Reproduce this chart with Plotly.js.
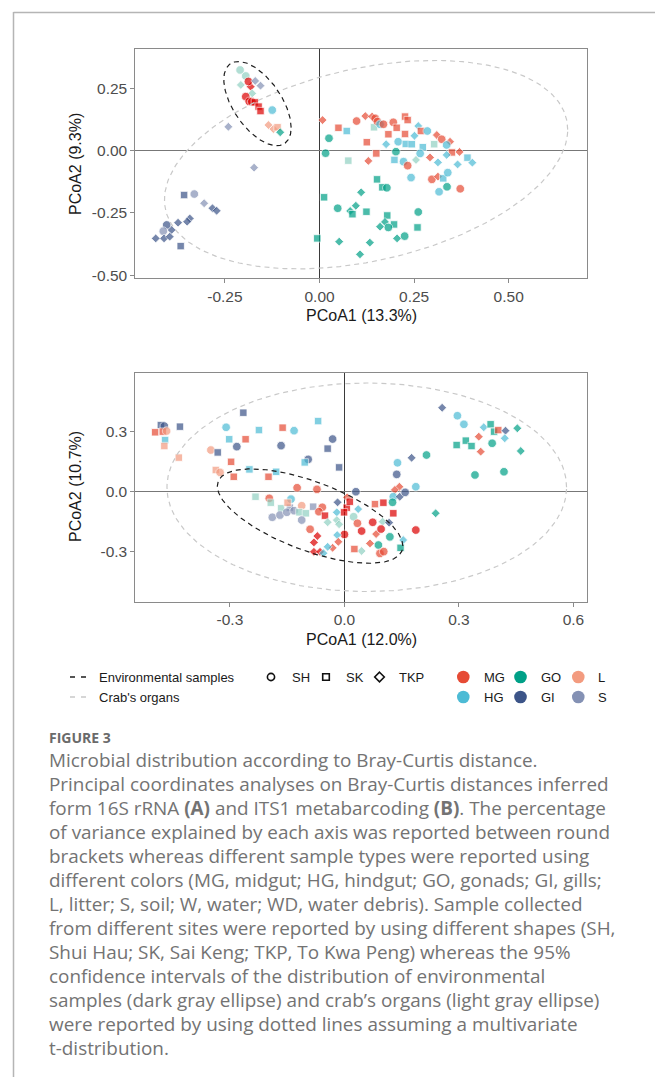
<!DOCTYPE html>
<html><head><meta charset="utf-8">
<script src="https://cdn.plot.ly/plotly-3.0.1.min.js"></script>
<style>html,body{margin:0;padding:0;background:#fff;} #chart{width:655px;height:1077px;}</style>
</head><body><div id="chart"></div>
<script>
// ---------------- DATA ----------------
// Panel A (16S rRNA)
const pcoaA_x = [-0.210,-0.195,-0.208,-0.182,-0.188,-0.170,-0.156,-0.178,-0.195,-0.186,-0.179,-0.171,-0.161,-0.156,-0.125,-0.135,-0.122,-0.111,-0.104,-0.241,-0.173,-0.358,-0.331,-0.305,-0.283,-0.272,-0.343,-0.350,-0.374,-0.391,-0.404,-0.413,-0.411,-0.433,-0.396,-0.367,
 0.008,0.025,0.016,0.050,0.072,0.098,0.121,0.139,0.147,0.144,0.153,0.160,0.169,0.195,0.226,0.233,0.204,0.182,0.261,0.268,0.226,0.251,0.285,0.310,0.345,0.323,0.208,0.228,0.244,0.273,0.303,0.336,0.176,0.125,0.202,0.150,0.266,0.350,0.370,0.076,0.129,0.198,0.222,0.233,0.255,0.292,0.313,0.336,0.365,0.391,0.404,0.242,0.297,0.313,0.327,0.339,0.316,0.337,0.372,0.152,0.166,0.178,0.012,0.110,0.048,0.096,0.081,0.087,0.124,0.261,0.179,0.197,0.173,0.160,0.182,0.259,-0.006,0.052,0.133,0.205,0.225,0.107];
const pcoaA_y = [0.324,0.300,0.264,0.257,0.278,0.280,0.261,0.230,0.217,0.198,0.197,0.194,0.177,0.159,0.163,0.103,0.087,0.094,0.074,0.096,-0.068,-0.178,-0.174,-0.211,-0.231,-0.241,-0.272,-0.285,-0.289,-0.318,-0.298,-0.323,-0.352,-0.352,-0.345,-0.383,
 0.123,0.050,-0.010,0.092,0.079,0.119,0.139,0.137,0.130,0.094,0.117,0.106,0.106,0.114,0.137,0.123,0.092,0.066,0.099,0.079,0.067,0.060,0.079,0.063,0.036,0.046,0.036,0.027,0.026,0.014,0.026,0.023,0.026,0.034,-0.004,-0.011,-0.011,-0.007,-0.005,-0.040,-0.041,-0.037,-0.044,-0.060,-0.037,-0.027,-0.047,-0.017,-0.055,-0.028,-0.048,-0.108,-0.115,-0.104,-0.111,-0.088,-0.165,-0.145,-0.153,-0.115,-0.147,-0.149,-0.187,-0.167,-0.231,-0.221,-0.242,-0.255,-0.245,-0.246,-0.260,-0.296,-0.286,-0.305,-0.308,-0.308,-0.352,-0.365,-0.369,-0.352,-0.343,-0.416];
const pcoaA_type = ['W','W','W','WD','WD','S','S','W','WD','WD','WD','WD','WD','WD','HG','L','L','L','GO','S','S','GI','S','S','GI','GI','GI','GI','GI','GI','GI','S','GI','GI','GI','GI',
 'MG','GO','GO','MG','HG','MG','MG','MG','MG','W','MG','HG','MG','MG','MG','MG','MG','MG','HG','MG','MG','HG','HG','MG','MG','MG','HG','HG','HG','HG','W','HG','HG','MG','GO','MG','HG','MG','MG','W','MG','HG','HG','MG','W','MG','HG','HG','HG','HG','HG','HG','MG','MG','HG','HG','HG','GO','MG','GO','GO','GO','GO','GO','GO','GO','GO','GO','GO','GO','GO','GO','GO','GO','GO','GO','GO','GO','GO','GO','GO','GO'];
const pcoaA_site = ['SH','SH','TKP','TKP','SH','TKP','TKP','TKP','SH','SH','SH','SK','SK','SK','SH','TKP','TKP','SK','TKP','TKP','TKP','SK','SH','TKP','TKP','TKP','TKP','TKP','TKP','TKP','SH','SH','TKP','TKP','TKP','SK',
 'TKP','SH','SH','SK','SK','SH','TKP','TKP','SH','SK','SH','SH','SH','SH','SK','SK','SK','SK','TKP','SK','SK','TKP','SH','TKP','TKP','SH','SH','SK','SK','SK','SK','SH','TKP','SK','SH','SK','SH','SK','TKP','SK','TKP','SK','SH','SH','TKP','TKP','TKP','TKP','TKP','SK','TKP','SH','SH','TKP','SK','SH','SH','SH','SH','SK','SK','SH','SK','TKP','SH','TKP','TKP','SK','SK','SH','SK','SK','TKP','TKP','SH','SK','SK','TKP','TKP','TKP','SH','TKP'];

// Panel B (ITS1)
const pcoaB_x = [-0.481,-0.472,-0.496,-0.476,-0.466,-0.431,-0.470,-0.472,-0.434,-0.265,-0.310,-0.302,-0.282,-0.259,-0.224,-0.350,-0.332,-0.297,-0.337,-0.326,-0.290,-0.249,-0.233,-0.069,-0.162,-0.132,-0.166,-0.031,-0.044,-0.095,-0.104,-0.014,-0.179,-0.199,-0.124,-0.072,0.030,-0.197,-0.193,-0.140,-0.166,-0.143,-0.149,-0.112,-0.189,-0.169,-0.151,-0.132,-0.118,-0.101,-0.112,-0.082,-0.058,-0.067,-0.051,-0.044,-0.020,-0.018,0.007,0.006,0.014,-0.001,0.024,0.036,-0.020,-0.014,0.034,-0.090,-0.071,0.000,-0.019,-0.080,-0.016,-0.031,-0.044,-0.080,-0.064,0.045,0.074,0.100,0.083,0.096,0.117,0.080,0.102,0.128,0.119,0.067,0.089,0.045,0.026,0.093,0.187,0.154,0.147,0.137,0.144,0.132,0.128,0.126,0.145,0.159,0.187,0.256,0.296,0.313,0.365,0.383,0.392,0.403,0.422,0.420,0.453,0.462,0.352,0.357,0.294,0.318,0.333,0.387,0.342,0.418,0.215,0.176,0.139,0.239,0.103,-0.055];
const pcoaB_y = [0.334,0.329,0.298,0.301,0.304,0.326,0.259,0.229,0.171,0.396,0.323,0.263,0.226,0.263,0.309,0.209,0.197,0.150,0.109,0.097,0.075,0.112,-0.025,0.354,0.321,0.306,0.231,0.264,0.216,0.162,0.147,0.122,0.100,0.075,0.020,0.012,0.000,-0.033,-0.055,-0.037,-0.083,-0.080,-0.055,-0.070,-0.128,-0.117,-0.103,-0.095,-0.103,-0.108,-0.142,-0.075,-0.078,-0.100,-0.120,-0.153,-0.103,-0.053,-0.028,-0.080,-0.050,-0.103,-0.125,-0.087,-0.142,-0.163,-0.158,-0.188,-0.222,-0.214,-0.217,-0.254,-0.251,-0.281,-0.276,-0.301,-0.301,-0.197,-0.153,-0.150,-0.212,-0.187,-0.155,-0.062,-0.055,-0.108,-0.226,-0.259,-0.267,-0.297,-0.287,-0.309,-0.192,-0.242,-0.281,0.087,0.025,0.009,-0.025,-0.053,-0.025,-0.003,0.025,0.421,0.381,0.338,0.323,0.338,0.301,0.309,0.306,0.268,0.318,0.204,0.276,0.201,0.234,0.256,0.229,0.243,0.084,0.100,0.184,0.170,0.145,-0.108,-0.300,-0.308];
const pcoaB_type = ['GI','GI','MG','MG','L','GI','HG','L','L','GI','HG','HG','GI','MG','HG','L','GI','MG','L','L','MG','HG','W','HG','MG','HG','GI','GI','GI','GI','HG','GI','HG','MG','MG','MG','GI','MG','W','HG','W','S','L','L','S','S','S','S','W','W','S','S','MG','MG','WD','W','HG','GI','MG','WD','WD','WD','W','HG','W','W','MG','MG','WD','WD','HG','WD','MG','MG','HG','WD','WD','WD','WD','W','MG','WD','GI','MG','WD','WD','GO','MG','GO','W','MG','MG','WD','HG','GO','GI','MG','MG','HG','GO','GI','GI','HG','GI','HG','HG','HG','GO','GO','MG','GI','HG','GO','GO','MG','MG','GO','GO','GO','GO','GO','GO','GO','GI','HG','GO','MG','HG'];
const pcoaB_site = ['SK','SH','SK','SK','SH','SK','SK','SK','SK','SK','SH','SK','SH','SK','SK','SH','SK','SK','SK','SH','SK','SK','SK','SK','SK','SH','SH','SH','SK','SH','SK','SK','SK','SK','SH','SH','SH','SH','SK','SH','SK','SK','SK','SH','SH','SH','SH','SH','SK','SK','SH','SK','SH','SH','SK','TKP','TKP','TKP','TKP','SK','SK','SK','SH','TKP','TKP','TKP','SH','SH','TKP','SH','TKP','TKP','TKP','TKP','TKP','TKP','TKP','SH','SH','TKP','TKP','SH','TKP','SK','SK','SK','SH','TKP','SH','TKP','SK','SH','SH','TKP','SK','SH','TKP','TKP','SH','SH','TKP','SH','SH','TKP','SH','SH','TKP','SK','SK','SK','TKP','TKP','TKP','TKP','TKP','TKP','SK','SK','SK','SH','SH','SH','SH','TKP','SH','TKP','SH','TKP'];

// Ellipse parameters [cx, cy, a, c, d]: x = cx + a cos t ; y = cy + c cos t + d sin t
const ellA_env = [-0.164, 0.189, 0.089, -0.0966, 0.1387];
const ellA_crab = [0.123, -0.056, 0.533, 0.1407, 0.394];
const ellB_env = [-0.090, -0.122, 0.243, -0.150, 0.1828];
const ellB_crab = [0.0585, 0.0225, 0.5235, 0.0, 0.5225];

// Axis ticks
const A_xticks = [-0.25, 0, 0.25, 0.5], A_xtext = ['-0.25','0.00','0.25','0.50'];
const A_yticks = [-0.5, -0.25, 0, 0.25], A_ytext = ['-0.50','-0.25','0.00','0.25'];
const B_xticks = [-0.3, 0, 0.3, 0.6], B_xtext = ['-0.3','0.0','0.3','0.6'];
const B_yticks = [-0.3, 0, 0.3], B_ytext = ['-0.3','0.0','0.3'];

const legendTypes = [['MG','GO','L'],['HG','GI','S']];
const legendSites = ['SH','SK','TKP'];
const captionLines = [
 'Microbial distribution according to Bray-Curtis distance.',
 'Principal coordinates analyses on Bray-Curtis distances inferred',
 'form 16S rRNA <b>(A)</b> and ITS1 metabarcoding <b>(B)</b>. The percentage',
 'of variance explained by each axis was reported between round',
 'brackets whereas different sample types were reported using',
 'different colors (MG, midgut; HG, hindgut; GO, gonads; GI, gills;',
 'L, litter; S, soil; W, water; WD, water debris). Sample collected',
 'from different sites were reported by using different shapes (SH,',
 'Shui Hau; SK, Sai Keng; TKP, To Kwa Peng) whereas the 95%',
 'confidence intervals of the distribution of environmental',
 'samples (dark gray ellipse) and crab\u2019s organs (light gray ellipse)',
 'were reported by using dotted lines assuming a multivariate',
 't-distribution.'
];

// ---------------- STYLE ----------------
const typeColors = {MG:'#E64B35', HG:'#4DBBD5', GO:'#00A087', GI:'#3C5488', L:'#F39B7F', S:'#8491B4', W:'#91D1C2', WD:'#DC0000'};
const siteSymbol = {SH:'circle', SK:'square', TKP:'diamond'};
const siteSize = {SH:8.6, SK:7.4, TKP:6.8};
const W = 655, H = 1077;
const px = v => v / W, py = v => 1 - v / H;
const FONT = 'Liberation Sans, Arial, Helvetica, sans-serif';

function pointsTrace(xs, ys, types, sites, xa, ya) {
  return {
    type: 'scatter', mode: 'markers', x: xs, y: ys, xaxis: xa, yaxis: ya,
    marker: {
      color: types.map(t => typeColors[t]),
      symbol: sites.map(s => siteSymbol[s]),
      size: sites.map(s => siteSize[s]),
      line: {color: '#ffffff', width: 0.8}
    },
    hoverinfo: 'skip', showlegend: false
  };
}
function ellipseTrace(p, color, xa, ya) {
  const xs = [], ys = [];
  for (let i = 0; i <= 240; i++) {
    const t = 2 * Math.PI * i / 240;
    xs.push(p[0] + p[2] * Math.cos(t));
    ys.push(p[1] + p[3] * Math.cos(t) + p[4] * Math.sin(t));
  }
  return {type: 'scatter', mode: 'lines', x: xs, y: ys, xaxis: xa, yaxis: ya,
    line: {color: color, width: 1.2, dash: '5px,4px'}, hoverinfo: 'skip', showlegend: false};
}

const data = [
  pointsTrace(pcoaA_x, pcoaA_y, pcoaA_type, pcoaA_site, 'x', 'y'),
  ellipseTrace(ellA_crab, '#c9c9c9', 'x', 'y'),
  ellipseTrace(ellA_env, '#1e1e1e', 'x', 'y'),
  pointsTrace(pcoaB_x, pcoaB_y, pcoaB_type, pcoaB_site, 'x2', 'y2'),
  ellipseTrace(ellB_crab, '#c9c9c9', 'x2', 'y2'),
  ellipseTrace(ellB_env, '#1e1e1e', 'x2', 'y2')
];

function axisBase(extra) {
  return Object.assign({
    showline: true, mirror: true, linecolor: '#8a8a8a', linewidth: 1,
    ticks: 'outside', ticklen: 4, tickcolor: '#8a8a8a', tickwidth: 1,
    showgrid: false, zeroline: true, automargin: false, fixedrange: true,
    tickfont: {family: FONT, size: 15.5, color: '#4d4d4d'}, tickmode: 'array'
  }, extra);
}
const xdom = [135.3 / W, 586.6 / W];
const layout = {
  width: W, height: H, margin: {l: 0, r: 0, t: 0, b: 0},
  paper_bgcolor: '#ffffff', plot_bgcolor: '#ffffff', showlegend: false,
  xaxis: axisBase({domain: xdom, range: [-0.487, 0.706], anchor: 'y', tickvals: A_xticks, ticktext: A_xtext, zerolinecolor: '#3a3a3a', zerolinewidth: 1}),
  yaxis: axisBase({domain: [1 - 278 / H, 1 - 49.3 / H], range: [-0.511, 0.407], anchor: 'x', tickvals: A_yticks, ticktext: A_ytext, zerolinecolor: '#777777', zerolinewidth: 1.3}),
  xaxis2: axisBase({domain: xdom, range: [-0.548, 0.6345], anchor: 'y2', tickvals: B_xticks, ticktext: B_xtext, zerolinecolor: '#3a3a3a', zerolinewidth: 1}),
  yaxis2: axisBase({domain: [1 - 601.7 / H, 1 - 373 / H], range: [-0.551, 0.595], anchor: 'x2', tickvals: B_yticks, ticktext: B_ytext, zerolinecolor: '#777777', zerolinewidth: 1.3}),
  annotations: [], shapes: []
};

function ann(text, x, y, opts) {
  layout.annotations.push(Object.assign({text: text, x: px(x), y: py(y), xref: 'paper', yref: 'paper',
    showarrow: false, xanchor: 'left', yanchor: 'middle',
    font: {family: FONT, size: 13, color: '#1a1a1a'}}, opts || {}));
}
// axis titles
const titleFont = {family: FONT, size: 16, color: '#1a1a1a'};
ann('PCoA1 (13.3%)', 361, 316, {xanchor: 'center', font: titleFont});
ann('PCoA2 (9.3%)', 75, 164, {xanchor: 'center', textangle: -90, font: titleFont});
ann('PCoA1 (12.0%)', 361, 640, {xanchor: 'center', font: titleFont});
ann('PCoA2 (10.7%)', 75, 487, {xanchor: 'center', textangle: -90, font: titleFont});

// page frame lines
layout.shapes.push({type: 'line', xref: 'paper', yref: 'paper', x0: px(13.5), x1: px(13.5), y0: py(12), y1: py(1077), line: {color: '#b5b5b5', width: 1.5}});
layout.shapes.push({type: 'line', xref: 'paper', yref: 'paper', x0: px(13.5), x1: px(655), y0: py(12.5), y1: py(12.5), line: {color: '#b5b5b5', width: 1.5}});

// legend: ellipse types
const row1 = 677, row2 = 697;
layout.shapes.push({type: 'line', xref: 'paper', yref: 'paper', x0: px(70), x1: px(87), y0: py(row1), y1: py(row1), line: {color: '#1e1e1e', width: 1.3, dash: '5px,6px'}});
layout.shapes.push({type: 'line', xref: 'paper', yref: 'paper', x0: px(70), x1: px(87), y0: py(row2), y1: py(row2), line: {color: '#c9c9c9', width: 1.3, dash: '5px,6px'}});
ann('Environmental samples', 96.5, row1);
ann('Crab\'s organs', 96.5, row2);

// legend: sites (open shapes)
const siteKeyX = [271, 326, 379.5], siteTextX = [290, 343.5, 397.5];
legendSites.forEach((s, i) => {
  const cx = siteKeyX[i], r = 3.6;
  if (s === 'SH') layout.shapes.push({type: 'circle', xref: 'paper', yref: 'paper', x0: px(cx - r), x1: px(cx + r), y0: py(row1 - r), y1: py(row1 + r), line: {color: '#111', width: 1.6}});
  if (s === 'SK') layout.shapes.push({type: 'rect', xref: 'paper', yref: 'paper', x0: px(cx - 3.3), x1: px(cx + 3.3), y0: py(row1 - 3.3), y1: py(row1 + 3.3), line: {color: '#111', width: 1.6}});
  if (s === 'TKP') {
    const d = 4.8;
    layout.shapes.push({type: 'path', xref: 'paper', yref: 'paper',
      path: `M ${px(cx)} ${py(row1 - d)} L ${px(cx + d)} ${py(row1)} L ${px(cx)} ${py(row1 + d)} L ${px(cx - d)} ${py(row1)} Z`,
      line: {color: '#111', width: 1.6}});
  }
  ann(s, siteTextX[i], row1);
});

// legend: sample types (filled dots)
const typeKeyX = [463.3, 520.5, 578.3], typeTextX = [481.5, 538.5, 595.5];
legendTypes.forEach((row, ri) => {
  const yy = ri === 0 ? row1 : row2;
  row.forEach((t, ci) => {
    const cx = typeKeyX[ci], r = 6.3;
    layout.shapes.push({type: 'circle', xref: 'paper', yref: 'paper', x0: px(cx - r), x1: px(cx + r), y0: py(yy - r), y1: py(yy + r), fillcolor: typeColors[t], line: {width: 0}});
    ann(t, typeTextX[ci], yy);
  });
});

// caption
const CAP = 'Open Sans, Noto Sans, sans-serif';
ann('<b>FIGURE 3</b>', 47, 737, {font: {family: CAP, size: 14, color: '#6a6a6a'}});
captionLines.forEach((ln, i) => {
  ann(ln, 47, 760 + 24 * i, {font: {family: CAP, size: 18.9, color: '#737373'}});
});

Plotly.newPlot('chart', data, layout, {displayModeBar: false, staticPlot: true});
</script>
</body></html>
